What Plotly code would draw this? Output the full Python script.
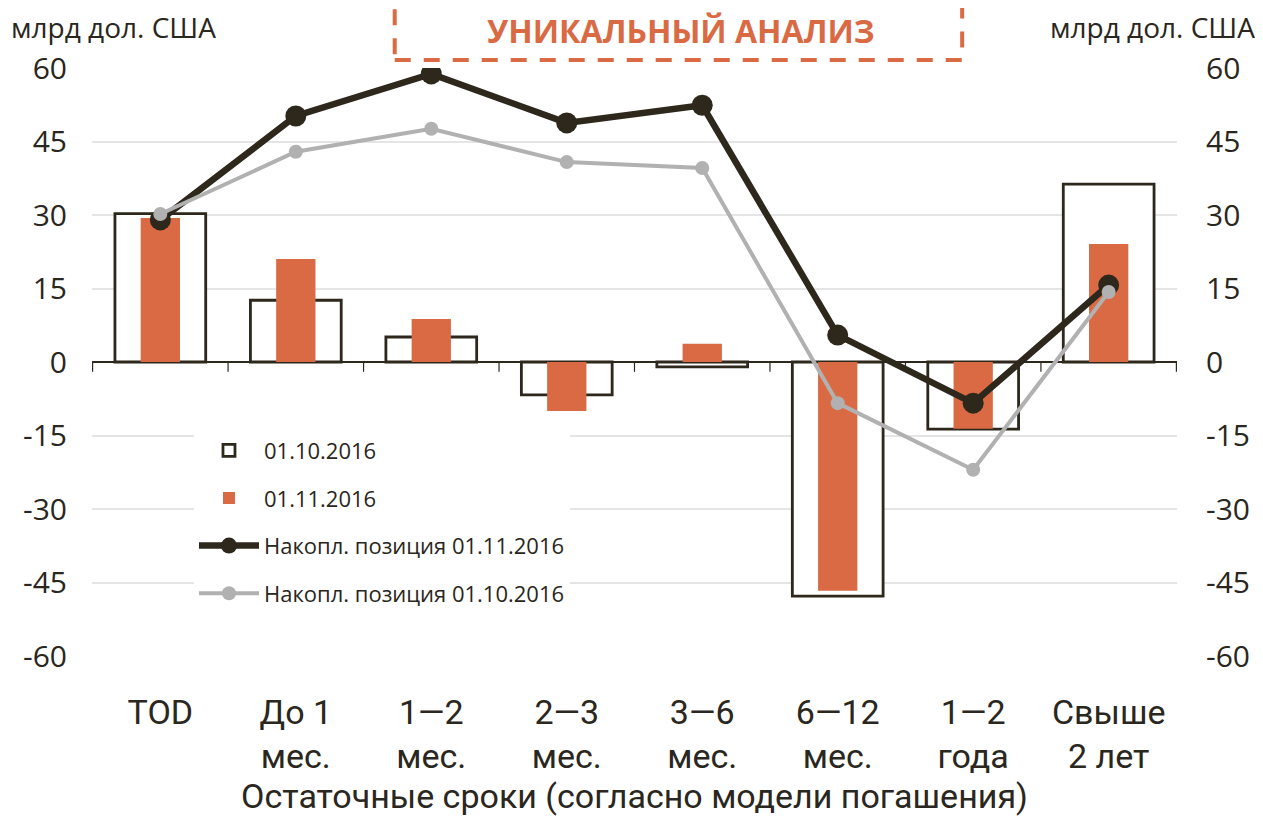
import plotly.graph_objects as go

categories = ["TOD", "До 1<br>мес.", "1—2<br>мес.", "2—3<br>мес.", "3—6<br>мес.",
              "6—12<br>мес.", "1—2<br>года", "Свыше<br>2 лет"]
gap_oct = [30.3, 12.6, 5.1, -6.7, -1.0, -47.8, -13.7, 36.3]
gap_nov = [29.4, 21.0, 8.8, -10.0, 3.7, -46.7, -13.6, 24.1]
cum_nov = [29.0, 50.2, 58.8, 48.8, 52.4, 5.5, -8.4, 15.7]
cum_oct = [30.2, 42.9, 47.6, 40.8, 39.6, -8.4, -22.0, 14.3]
tick_vals = [60, 45, 30, 15, 0, -15, -30, -45, -60]
tick_text = ["60", "45", "30", "15", "0", "-15", "-30", "-45", "-60"]

ORANGE = "#D96A44"
DARK = "#2D271C"
GRAY = "#B1B1B1"
TXT = "#2A2620"
FONT = "Open Sans"
XFONT = "Roboto"

fig = go.Figure()
fig.add_trace(go.Bar(x=categories, y=gap_oct, name="01.10.2016", width=0.67,
                     legendgroup="a",
                     marker=dict(color="white", line=dict(color=DARK, width=2.8))))
fig.add_trace(go.Bar(x=categories, y=gap_nov, name="01.11.2016", width=0.29,
                     legendgroup="b",
                     marker=dict(color=ORANGE, line=dict(width=0))))
fig.add_trace(go.Scatter(x=categories, y=cum_nov, name="Накопл. позиция 01.11.2016",
                         mode="lines+markers", yaxis="y2", legendgroup="c",
                         line=dict(color=DARK, width=6.5), marker=dict(color=DARK, size=21)))
fig.add_trace(go.Scatter(x=categories, y=cum_oct, name="Накопл. позиция 01.10.2016",
                         mode="lines+markers", yaxis="y2", legendgroup="d",
                         line=dict(color=GRAY, width=4), marker=dict(color=GRAY, size=14)))

# category boundary ticks on the zero line
for i in range(len(categories) + 1):
    fig.add_shape(type="line", xref="x", yref="y", x0=i - 0.5, x1=i - 0.5, y0=0, y1=-2,
                  line=dict(color=DARK, width=1.2))

# title box
fig.add_shape(type="rect", xref="paper", yref="paper", x0=0.279, x1=0.802, y0=1.0136, y1=1.3,
              line=dict(color=ORANGE, width=4, dash="16px,13px"), layer="above")
fig.add_annotation(text="<b>УНИКАЛЬНЫЙ АНАЛИЗ</b>", xref="paper", yref="paper",
                   x=0.543, y=1.064, showarrow=False, yanchor="middle", borderpad=0,
                   font=dict(family=FONT, size=32, color=ORANGE))
fig.add_annotation(text="млрд дол. США", xref="paper", yref="paper", x=-0.0755, y=1.069,
                   xanchor="left", yanchor="middle", showarrow=False, borderpad=0,
                   font=dict(family=FONT, size=28, color=TXT))
fig.add_annotation(text="млрд дол. США", xref="paper", yref="paper", x=1.073, y=1.069,
                   xanchor="right", yanchor="middle", showarrow=False, borderpad=0,
                   font=dict(family=FONT, size=28, color=TXT))

fig.update_layout(
    width=1255, height=814,
    margin=dict(l=84, r=86, t=60, b=166, autoexpand=False),
    paper_bgcolor="white", plot_bgcolor="white",
    barmode="overlay",
    showlegend=True,
    legend=dict(x=0.094, y=0.385, xanchor="left", yanchor="top", bgcolor="white",
                font=dict(family=FONT, size=22, color=TXT), tracegroupgap=16,
                itemwidth=60, traceorder="grouped"),
    xaxis=dict(type="category", showgrid=False, showline=False, ticks="",
               tickfont=dict(family=XFONT, size=34, color=TXT), ticklabelstandoff=33,
               title=dict(text="Остаточные сроки (согласно модели погашения)",
                          font=dict(family=XFONT, size=34, color=TXT), standoff=2)),
    yaxis=dict(range=[-60, 60], tickvals=tick_vals, ticktext=tick_text,
               showgrid=True, gridcolor="#E5E5E5", gridwidth=1.5,
               zeroline=True, zerolinecolor=DARK, zerolinewidth=1.5,
               tickfont=dict(family=FONT, size=30, color=TXT), ticklabelstandoff=24,
               showline=False, ticks=""),
    yaxis2=dict(range=[-60, 60], tickvals=tick_vals, ticktext=tick_text,
                overlaying="y", side="right", showgrid=False, zeroline=False,
                tickfont=dict(family=FONT, size=30, color=TXT), ticklabelstandoff=28,
                showline=False, ticks=""),
)

fig.write_html("out.html")
